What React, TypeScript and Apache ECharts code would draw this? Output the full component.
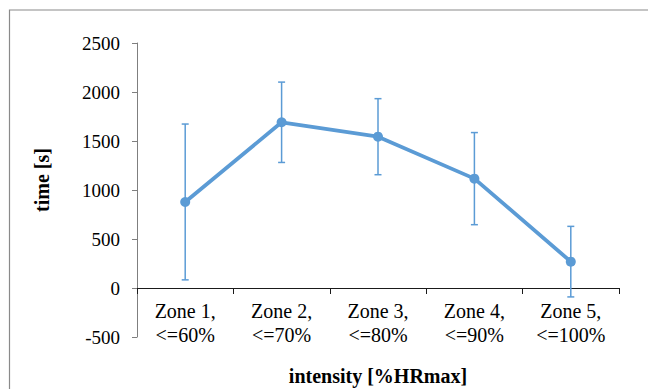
import React, { useEffect, useRef } from "react";
import * as echarts from "echarts";

const zones = ["Zone 1,", "Zone 2,", "Zone 3,", "Zone 4,", "Zone 5,"];
const limits = ["<=60%", "<=70%", "<=80%", "<=90%", "<=100%"];
const meanTime = [878, 1691, 1544, 1116, 269];
const sdTime = [795, 410, 388, 470, 360];
const yTicks = { min: -500, max: 2500, interval: 500 };

const categories = zones.map((z, i) => z + "\n" + limits[i]);
const FONT = "'Liberation Serif', 'Times New Roman', serif";
const BLUE = "#5B9BD5";

export default function App() {
  const ref = useRef<HTMLDivElement>(null);
  useEffect(() => {
    if (!ref.current) return;
    const chart = echarts.init(ref.current, undefined, { renderer: "svg" });
    const errData = meanTime.map((m, i) => [i, m - sdTime[i], m + sdTime[i]]);
    chart.setOption({
      animation: false,
      backgroundColor: "#fff",
      textStyle: { fontFamily: FONT, color: "#000" },
      grid: { left: 137, right: 29, top: 43, bottom: 52, containLabel: false, outerBoundsMode: "none" },
      graphic: [
        {
          type: "rect",
          shape: { x: 9.5, y: 10, width: 800, height: 600 },
          style: { fill: "none", stroke: "#8a8a8a", lineWidth: 1.2 },
          silent: true,
          z: -10,
        },
      ],
      xAxis: {
        type: "category",
        data: categories,
        offset: -49,
        name: "intensity [%HRmax]",
        nameLocation: "middle",
        nameGap: 88,
        nameTextStyle: {
          fontFamily: FONT,
          fontWeight: "bold",
          fontSize: 20,
          color: "#000",
          verticalAlign: "middle",
        },
        axisLine: { onZero: false, lineStyle: { color: "#1a1a1a", width: 1 } },
        axisTick: { show: true, length: 6, lineStyle: { color: "#1a1a1a" } },
        axisLabel: {
          fontFamily: FONT,
          fontSize: 20,
          color: "#000",
          lineHeight: 24,
          margin: 11,
          interval: 0,
        },
        splitLine: { show: false },
      },
      yAxis: {
        type: "value",
        min: yTicks.min,
        max: yTicks.max,
        interval: yTicks.interval,
        name: "time [s]",
        nameLocation: "middle",
        nameGap: 85,
        nameTextStyle: {
          fontFamily: FONT,
          fontWeight: "bold",
          fontSize: 20,
          color: "#000",
          padding: [0, 0, 0, 20],
        },
        axisLine: { show: true, lineStyle: { color: "#7f7f7f", width: 1 } },
        axisTick: { show: true, length: 5, lineStyle: { color: "#7f7f7f" } },
        axisLabel: {
          fontFamily: FONT,
          fontSize: 19,
          color: "#000",
          margin: 17,
          formatter: (v: number) => String(v),
        },
        splitLine: { show: false },
      },
      series: [
        {
          type: "custom",
          data: errData,
          z: 1,
          renderItem: (params: any, api: any) => {
            const x = api.value(0);
            const lo = api.coord([x, api.value(1)]);
            const hi = api.coord([x, api.value(2)]);
            const w = 3.5;
            const style = { stroke: BLUE, lineWidth: 1.5, fill: "none" };
            return {
              type: "group",
              children: [
                { type: "line", shape: { x1: hi[0], y1: hi[1], x2: lo[0], y2: lo[1] }, style },
                { type: "line", shape: { x1: hi[0] - w, y1: hi[1], x2: hi[0] + w, y2: hi[1] }, style },
                { type: "line", shape: { x1: lo[0] - w, y1: lo[1], x2: lo[0] + w, y2: lo[1] }, style },
              ],
            };
          },
        },
        {
          type: "line",
          data: meanTime,
          z: 2,
          symbol: "circle",
          symbolSize: 10,
          itemStyle: { color: BLUE },
          lineStyle: { color: BLUE, width: 3.8 },
        },
      ],
    });
    return () => chart.dispose();
  }, []);
  return (
    <div
      ref={ref}
      style={{ position: "fixed", left: 0, top: 0, width: 648, height: 389 }}
    />
  );
}
